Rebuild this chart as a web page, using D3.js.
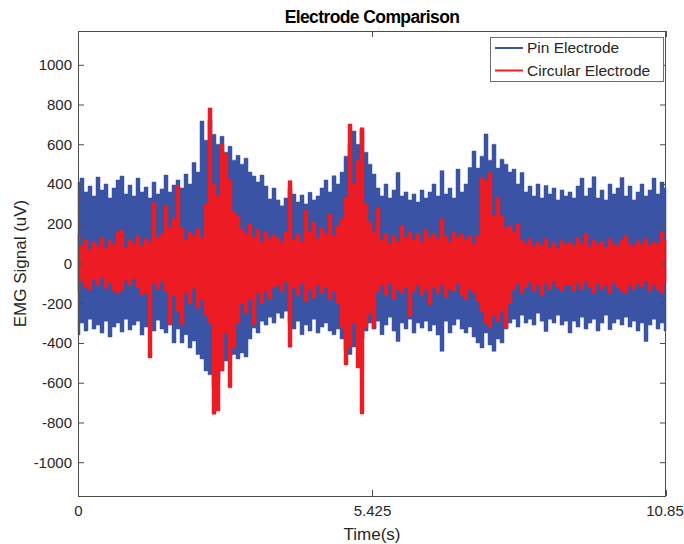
<!DOCTYPE html>
<html>
<head>
<meta charset="utf-8">
<script src="https://cdn.jsdelivr.net/npm/d3@7"></script>
<style>
  html, body { margin: 0; padding: 0; background: #fff; }
  svg { display: block; }
  text { font-family: "Liberation Sans", Arial, Helvetica, sans-serif; }
</style>
</head>
<body>
<svg id="chart" width="684" height="544"></svg>
<script>
// Recording length (s) and axis ticks
const duration = 10.85;
const xTickValues = [0, 5.425, 10.85];
const xTickLabels = ["0", "5.425", "10.85"];
const yTickValues = [-1000, -800, -600, -400, -200, 0, 200, 400, 600, 800, 1000];
const yLimit = 1170;

// Min/max envelope of each recording per 0.0738 s window (uV)
const pinHigh = [
  410, 430, 360, 390, 340, 435, 370, 400, 330, 380, 420, 440, 350, 395, 340, 430, 360, 385, 330, 410, 350, 375, 445, 360, 395,
  420, 380, 450, 400, 508, 460, 717, 620, 725, 650, 600, 640, 560, 590, 520, 545, 500, 530, 460, 440, 410, 445, 390, 325, 380,
  320, 290, 330, 380, 350, 310, 345, 300, 358, 320, 340, 380, 420, 360, 441, 400, 460, 540, 600, 667, 600, 675, 560, 500,
  450, 380, 340, 400, 330, 370, 458, 340, 360, 320, 350, 310, 370, 330, 360, 400, 340, 467, 350, 380, 330, 475, 360, 400, 483,
  566, 480, 540, 652, 520, 600, 480, 525, 500, 460, 475, 400, 458, 360, 390, 340, 400, 330, 392, 350, 380, 320, 370, 340,
  360, 330, 390, 430, 340, 380, 437, 330, 370, 320, 400, 350, 380, 433, 340, 390, 320, 360, 400, 340, 370, 430, 350, 410, 380
];
const pinLow = [
  -360, -300, -340, -280, -330, -310, -350, -290, -370, -320, -300, -345, -280, -335, -310, -290, -360, -320, -300, -340, -285, -330, -350, -310, -400,
  -330, -400, -358, -425, -390, -458, -480, -541, -560, -623, -590, -540, -491, -470, -458, -480, -450, -470, -380, -325, -350, -290, -310, -270, -300,
  -250, -275, -240, -300, -330, -290, -358, -310, -340, -280, -350, -320, -300, -340, -358, -330, -380, -440, -458, -420, -400, -380, -340, -300,
  -330, -290, -358, -310, -270, -340, -392, -300, -330, -280, -350, -300, -325, -290, -340, -310, -360, -442, -290, -350, -310, -280, -330, -350, -320,
  -370, -400, -425, -350, -410, -442, -380, -400, -330, -300, -280, -320, -260, -300, -280, -310, -250, -290, -342, -280, -300, -260, -310, -290,
  -350, -290, -320, -270, -330, -300, -280, -340, -300, -260, -333, -300, -280, -310, -270, -320, -290, -340, -300, -392, -310, -280, -330, -300, -340
];
const circHigh = [
  150, 90, 120, 70, 110, 85, 130, 75, 115, 95, 158, 167, 80, 120, 100, 140, 90, 125, 110, 308, 130, 150, 292, 180, 225,
  390, 180, 120, 160, 140, 175, 130, 300, 783, 400, 342, 600, 551, 425, 260, 240, 175, 150, 200, 130, 170, 110, 160, 125, 145,
  130, 108, 158, 417, 120, 150, 110, 267, 160, 208, 125, 180, 150, 250, 140, 190, 225, 330, 702, 400, 517, 683, 300, 208,
  160, 283, 120, 150, 100, 140, 110, 192, 130, 160, 120, 150, 110, 170, 130, 150, 125, 225, 140, 110, 160, 130, 150, 120, 140,
  100, 142, 433, 417, 458, 242, 333, 242, 180, 192, 158, 200, 120, 100, 125, 85, 110, 90, 125, 80, 105, 75, 115, 95,
  110, 90, 130, 100, 150, 85, 120, 95, 110, 80, 125, 100, 90, 120, 142, 100, 85, 115, 95, 125, 90, 110, 100, 158, 120
];
const circLow = [
  -142, -90, -120, -135, -80, -110, -70, -125, -95, -142, -150, -135, -85, -110, -75, -120, -158, -150, -475, -100, -130, -90, -140, -308, -160,
  -240, -308, -150, -200, -125, -225, -180, -260, -300, -758, -742, -541, -350, -625, -425, -300, -200, -250, -180, -308, -150, -200, -140, -180, -120,
  -110, -142, -92, -421, -120, -160, -100, -192, -130, -175, -110, -150, -120, -180, -140, -200, -325, -511, -420, -300, -526, -757, -325, -250,
  -325, -140, -110, -160, -100, -180, -130, -150, -120, -267, -140, -110, -160, -130, -208, -120, -150, -110, -170, -130, -140, -100, -160, -183, -130,
  -150, -192, -242, -300, -325, -260, -290, -240, -325, -200, -130, -100, -150, -120, -92, -140, -110, -158, -100, -130, -92, -120, -140, -110,
  -110, -140, -100, -130, -90, -120, -150, -100, -130, -110, -150, -95, -120, -140, -150, -110, -130, -100, -120, -90, -140, -110, -130, -150, -100
];

const seriesNames = ["Pin Electrode", "Circular Electrode"];
const seriesColors = ["#3a53a4", "#ed1c24"];

const svg = d3.select("#chart");
const plotLeft = 78, plotRight = 666, plotTop = 31, plotBottom = 496;
const axisColor = "#4d4d4d";
const textColor = "#262626";

const x = d3.scaleLinear().domain([0, duration]).range([plotLeft, plotRight]);
const y = d3.scaleLinear().domain([-yLimit, yLimit]).range([plotBottom, plotTop]);

const n = pinHigh.length;
const times = d3.range(n).map(i => i * duration / (n - 1));

function bandRows(hi, lo) {
  return times.map((t, i) => ({ t, hi: hi[i], lo: lo[i] }));
}

// Each window drawn as a column from its minimum to its maximum
const area = d3.area()
  .x(d => x(d.t))
  .y0(d => y(d.lo))
  .y1(d => y(d.hi))
  .curve(d3.curveStep);

const plot = svg.append("g");
plot.append("path")
  .datum(bandRows(pinHigh, pinLow))
  .attr("d", area)
  .attr("fill", seriesColors[0])
  .attr("stroke", seriesColors[0])
  .attr("stroke-width", 0.5);
plot.append("path")
  .datum(bandRows(circHigh, circLow))
  .attr("d", area)
  .attr("fill", seriesColors[1])
  .attr("stroke", seriesColors[1])
  .attr("stroke-width", 0.5);

// Axes with inward ticks on all four sides
const fontSize = "15px";
const gLeft = svg.append("g").attr("transform", `translate(${plotLeft},0)`)
  .call(d3.axisLeft(y).tickValues(yTickValues).tickSizeInner(-6).tickSizeOuter(0).tickPadding(6)
    .tickFormat(d => String(d)));
const gRight = svg.append("g").attr("transform", `translate(${plotRight},0)`)
  .call(d3.axisRight(y).tickValues(yTickValues).tickSizeInner(-6).tickSizeOuter(0).tickFormat(""));
const gBottom = svg.append("g").attr("transform", `translate(0,${plotBottom})`)
  .call(d3.axisBottom(x).tickValues(xTickValues).tickSizeInner(-6).tickSizeOuter(0).tickPadding(9)
    .tickFormat((d, i) => xTickLabels[i]));
const gTop = svg.append("g").attr("transform", `translate(0,${plotTop})`)
  .call(d3.axisTop(x).tickValues(xTickValues).tickSizeInner(-6).tickSizeOuter(0).tickFormat(""));

[gLeft, gRight, gBottom, gTop].forEach(g => {
  g.select(".domain").remove();
  g.selectAll(".tick line").attr("stroke", axisColor);
  g.selectAll(".tick text").attr("fill", textColor).style("font-size", fontSize)
    .style("font-family", '"Liberation Sans", Arial, sans-serif');
});
// keep the last time label inside the page
gBottom.selectAll(".tick text").filter((d, i) => i === xTickValues.length - 1).attr("dx", "-1.5");

svg.append("rect")
  .attr("x", plotLeft + 0.5).attr("y", plotTop + 0.5)
  .attr("width", plotRight - plotLeft - 1).attr("height", plotBottom - plotTop)
  .attr("fill", "none").attr("stroke", axisColor).attr("stroke-width", 1);

// Title and axis labels
svg.append("text")
  .attr("x", (plotLeft + plotRight) / 2).attr("y", 23)
  .attr("text-anchor", "middle")
  .style("font-size", "17.5px").style("font-weight", "bold").style("letter-spacing", "-0.6px")
  .attr("fill", "#000")
  .text("Electrode Comparison");

svg.append("text")
  .attr("x", (plotLeft + plotRight) / 2).attr("y", 540)
  .attr("text-anchor", "middle")
  .style("font-size", "17px")
  .attr("fill", textColor)
  .text("Time(s)");

svg.append("text")
  .attr("transform", `translate(26,${(plotTop + plotBottom) / 2}) rotate(-90)`)
  .attr("text-anchor", "middle")
  .style("font-size", "17px")
  .attr("fill", textColor)
  .text("EMG Signal (uV)");

// Legend
const lg = svg.append("g");
lg.append("rect")
  .attr("x", 490.5).attr("y", 37.5).attr("width", 173).attr("height", 44)
  .attr("fill", "#fff").attr("stroke", "#6e6e6e").attr("stroke-width", 1);
seriesNames.forEach((name, i) => {
  const yy = 48 + i * 22.5;
  lg.append("line")
    .attr("x1", 495).attr("x2", 523).attr("y1", yy).attr("y2", yy)
    .attr("stroke", seriesColors[i]).attr("stroke-width", 2);
  lg.append("text")
    .attr("x", 527).attr("y", yy).attr("dy", "0.35em")
    .style("font-size", "15.5px")
    .attr("fill", textColor)
    .text(name);
});
</script>
</body>
</html>
